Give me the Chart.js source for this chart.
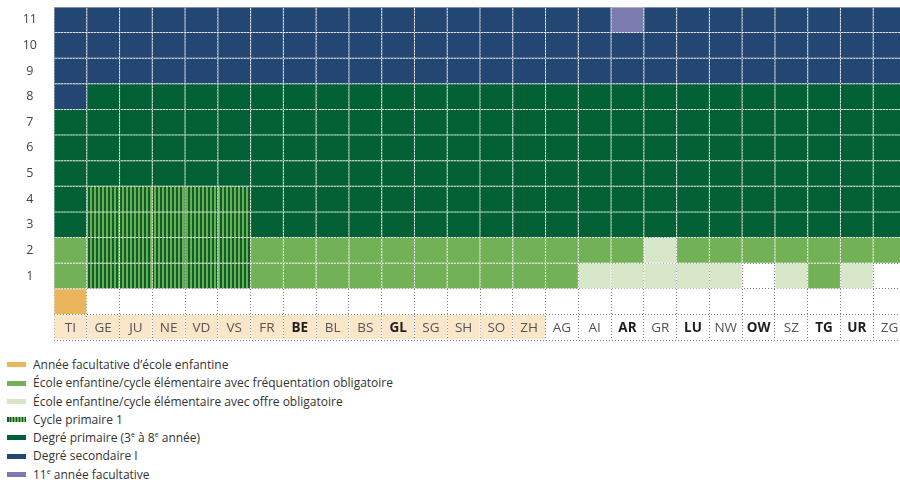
<!DOCTYPE html>
<html>
<head>
<meta charset="utf-8">
<script src="https://cdn.jsdelivr.net/npm/chart.js@4.4.1/dist/chart.umd.min.js"></script>
<style>
  html, body { margin: 0; padding: 0; background: #fff; overflow: hidden; width: 900px; height: 482px; }
  #wrap { position: absolute; left: 0; top: 0; width: 906px; height: 341px; }
  #legend { position: absolute; left: 7px; top: 356px; font-family: "Open Sans", sans-serif; font-size: 12px; color: #333; }
  .item { height: 18.3px; line-height: 18.3px; white-space: nowrap; }
  .sw { display: inline-block; width: 19px; height: 5px; margin-right: 7px; vertical-align: middle; position: relative; top: -1px; }
  sup { font-size: 7px; line-height: 0; vertical-align: 5px; }
</style>
</head>
<body>
<div id="wrap"><canvas id="grid" width="906" height="341"></canvas></div>
<div id="legend"></div>
<script>
// cantons, left to right
const cantons = ['TI','GE','JU','NE','VD','VS','FR','BE','BL','BS','GL','SG','SH','SO','ZH',
                 'AG','AI','AR','GR','LU','NW','OW','SZ','TG','UR','ZG'];
const boldCantons = ['BE','GL','AR','LU','OW','TG','UR'];
const highlighted = [1,1,1,1,1,1,1,1,1,1,1,1,1,1,1, 0,0,0,0,0,0,0,0,0,0,0];

// O = année facultative, F = fréquentation obligatoire, E = offre obligatoire,
// C = cycle primaire 1, P = degré primaire, S = secondaire I, X = 11e facultative
const optionalKg = ['O','','','','','','','','','','','','','','','','','','','','','','','','',''];
const year1 = ['F','C','C','C','C','C','F','F','F','F','F','F','F','F','F',
               'F','E','E','E','E','E','','E','F','E',''];
const year2 = ['F','C','C','C','C','C','F','F','F','F','F','F','F','F','F',
               'F','F','F','E','F','F','F','F','F','F','F'];
const cycle1Years = 4;
const lastPrimaryYear = [7,8,8,8,8,8,8,8,8,8,8,8,8,8,8,8,8,8,8,8,8,8,8,8,8,8];
const optional11th = ['AR'];
const years = [1,2,3,4,5,6,7,8,9,10,11];

const legendKeys = ['O','F','E','C','P','S','X'];
const legendLabels = [
  'Année facultative d’école enfantine',
  'École enfantine/cycle élémentaire avec fréquentation obligatoire',
  'École enfantine/cycle élémentaire avec offre obligatoire',
  'Cycle primaire 1',
  'Degré primaire (3<sup>e</sup> à 8<sup>e</sup> année)',
  'Degré secondaire I',
  '11<sup>e</sup> année facultative'
];

const colors = {
  O: '#EBB55D', F: '#73B157', E: '#D7E6C8', P: '#016034', S: '#234672', X: '#7C7BAD'
};
const stripeDark = '#0B5F2F', stripeLight = '#6DAF50';
const beige = '#FAE6C9';

function stripes() {
  const c = document.createElement('canvas');
  c.width = 4; c.height = 1;
  const g = c.getContext('2d');
  g.fillStyle = stripeLight; g.fillRect(0, 0, 4, 1);
  g.fillStyle = stripeDark; g.fillRect(0, 0, 2, 1);
  return g.createPattern(c, 'repeat');
}
const stripePattern = stripes();

function lighten(hex, t) {
  const n = parseInt(hex.slice(1), 16);
  const ch = [n >> 16, (n >> 8) & 255, n & 255].map(v => Math.round(v + (255 - v) * t));
  return 'rgb(' + ch.join(',') + ')';
}

function cellType(i, year) {
  if (year === 0) return optionalKg[i];
  if (year <= 2) return year === 1 ? year1[i] : year2[i];
  if (year <= cycle1Years && year1[i] === 'C') return 'C';
  if (year <= lastPrimaryYear[i]) return 'P';
  if (year === 11 && optional11th.includes(cantons[i])) return 'X';
  return 'S';
}

function fillOf(t) {
  if (!t) return 'rgba(0,0,0,0)';
  if (t === 'C') return stripePattern;
  return colors[t];
}
function edgeOf(t) {
  if (!t) return 'rgba(0,0,0,0)';
  if (t === 'C') return '#b3d1a6';
  return lighten(colors[t], 0.6);
}

const cellStyle = { borderWidth: 0.5, borderSkipped: false, inflateAmount: 0 };

// bottom row holds the canton names, then the optional year, then years 1..11
const datasets = [{
  label: 'labels',
  data: cantons.map(() => 1),
  backgroundColor: highlighted.map(h => h ? beige : 'rgba(0,0,0,0)'),
  borderColor: 'rgba(0,0,0,0)',
  ...cellStyle
}];
[0].concat(years).forEach(y => {
  const types = cantons.map((c, i) => cellType(i, y));
  datasets.push({
    label: 'year ' + y,
    data: cantons.map(() => 1),
    backgroundColor: types.map(fillOf),
    borderColor: types.map(edgeOf),
    ...cellStyle
  });
});

const noPad = s => { s.paddingTop = 0; s.paddingBottom = 0; s.paddingLeft = 0; s.paddingRight = 0; };

new Chart(document.getElementById('grid'), {
  type: 'bar',
  data: { labels: cantons, datasets },
  options: {
    responsive: false,
    animation: false,
    layout: { padding: { top: 7, bottom: 1, left: 0, right: 0 } },
    datasets: { bar: { barPercentage: 1, categoryPercentage: 1 } },
    plugins: { legend: { display: false }, tooltip: { enabled: false } },
    scales: {
      x: {
        stacked: true,
        grid: { color: '#808080', lineWidth: 1, drawTicks: false },
        border: { display: false, dash: [1, 2] },
        ticks: {
          z: 1,
          mirror: true,
          padding: 4,
          maxRotation: 0,
          autoSkip: false,
          color: ctx => boldCantons.includes(cantons[ctx.index]) ? '#1e1e1e' : '#555',
          font: ctx => ({
            family: '"Open Sans", sans-serif',
            size: 13.5,
            weight: boldCantons.includes(cantons[ctx.index]) ? 'bold' : 'normal'
          })
        },
        afterFit: s => { s.height = 0; noPad(s); }
      },
      y: {
        stacked: true,
        min: 0,
        max: 13,
        grid: {
          color: ctx => (ctx.tick && ctx.tick.value === 13 ? 'rgba(0,0,0,0)' : '#808080'),
          lineWidth: 1,
          drawTicks: true,
          tickLength: 17,
          tickColor: 'rgba(0,0,0,0)'
        },
        border: { display: false, dash: [1, 2] },
        ticks: {
          stepSize: 1,
          padding: 0,
          crossAlign: 'center',
          labelOffset: 12.8,
          color: '#444',
          font: { family: '"Open Sans", sans-serif', size: 12.5 },
          callback: v => (v >= 3 ? String(v - 2) : '')
        },
        afterFit: s => { s.width = 54; noPad(s); }
      }
    }
  }
});

// legend
document.getElementById('legend').innerHTML = legendKeys.map((k, i) => {
  const bg = k === 'C'
    ? `repeating-linear-gradient(90deg, ${stripeDark} 0 1.5px, ${stripeLight} 1.5px 3px)`
    : colors[k];
  return `<div class="item"><span class="sw" style="background:${bg}"></span>${legendLabels[i]}</div>`;
}).join('');
</script>
</body>
</html>
